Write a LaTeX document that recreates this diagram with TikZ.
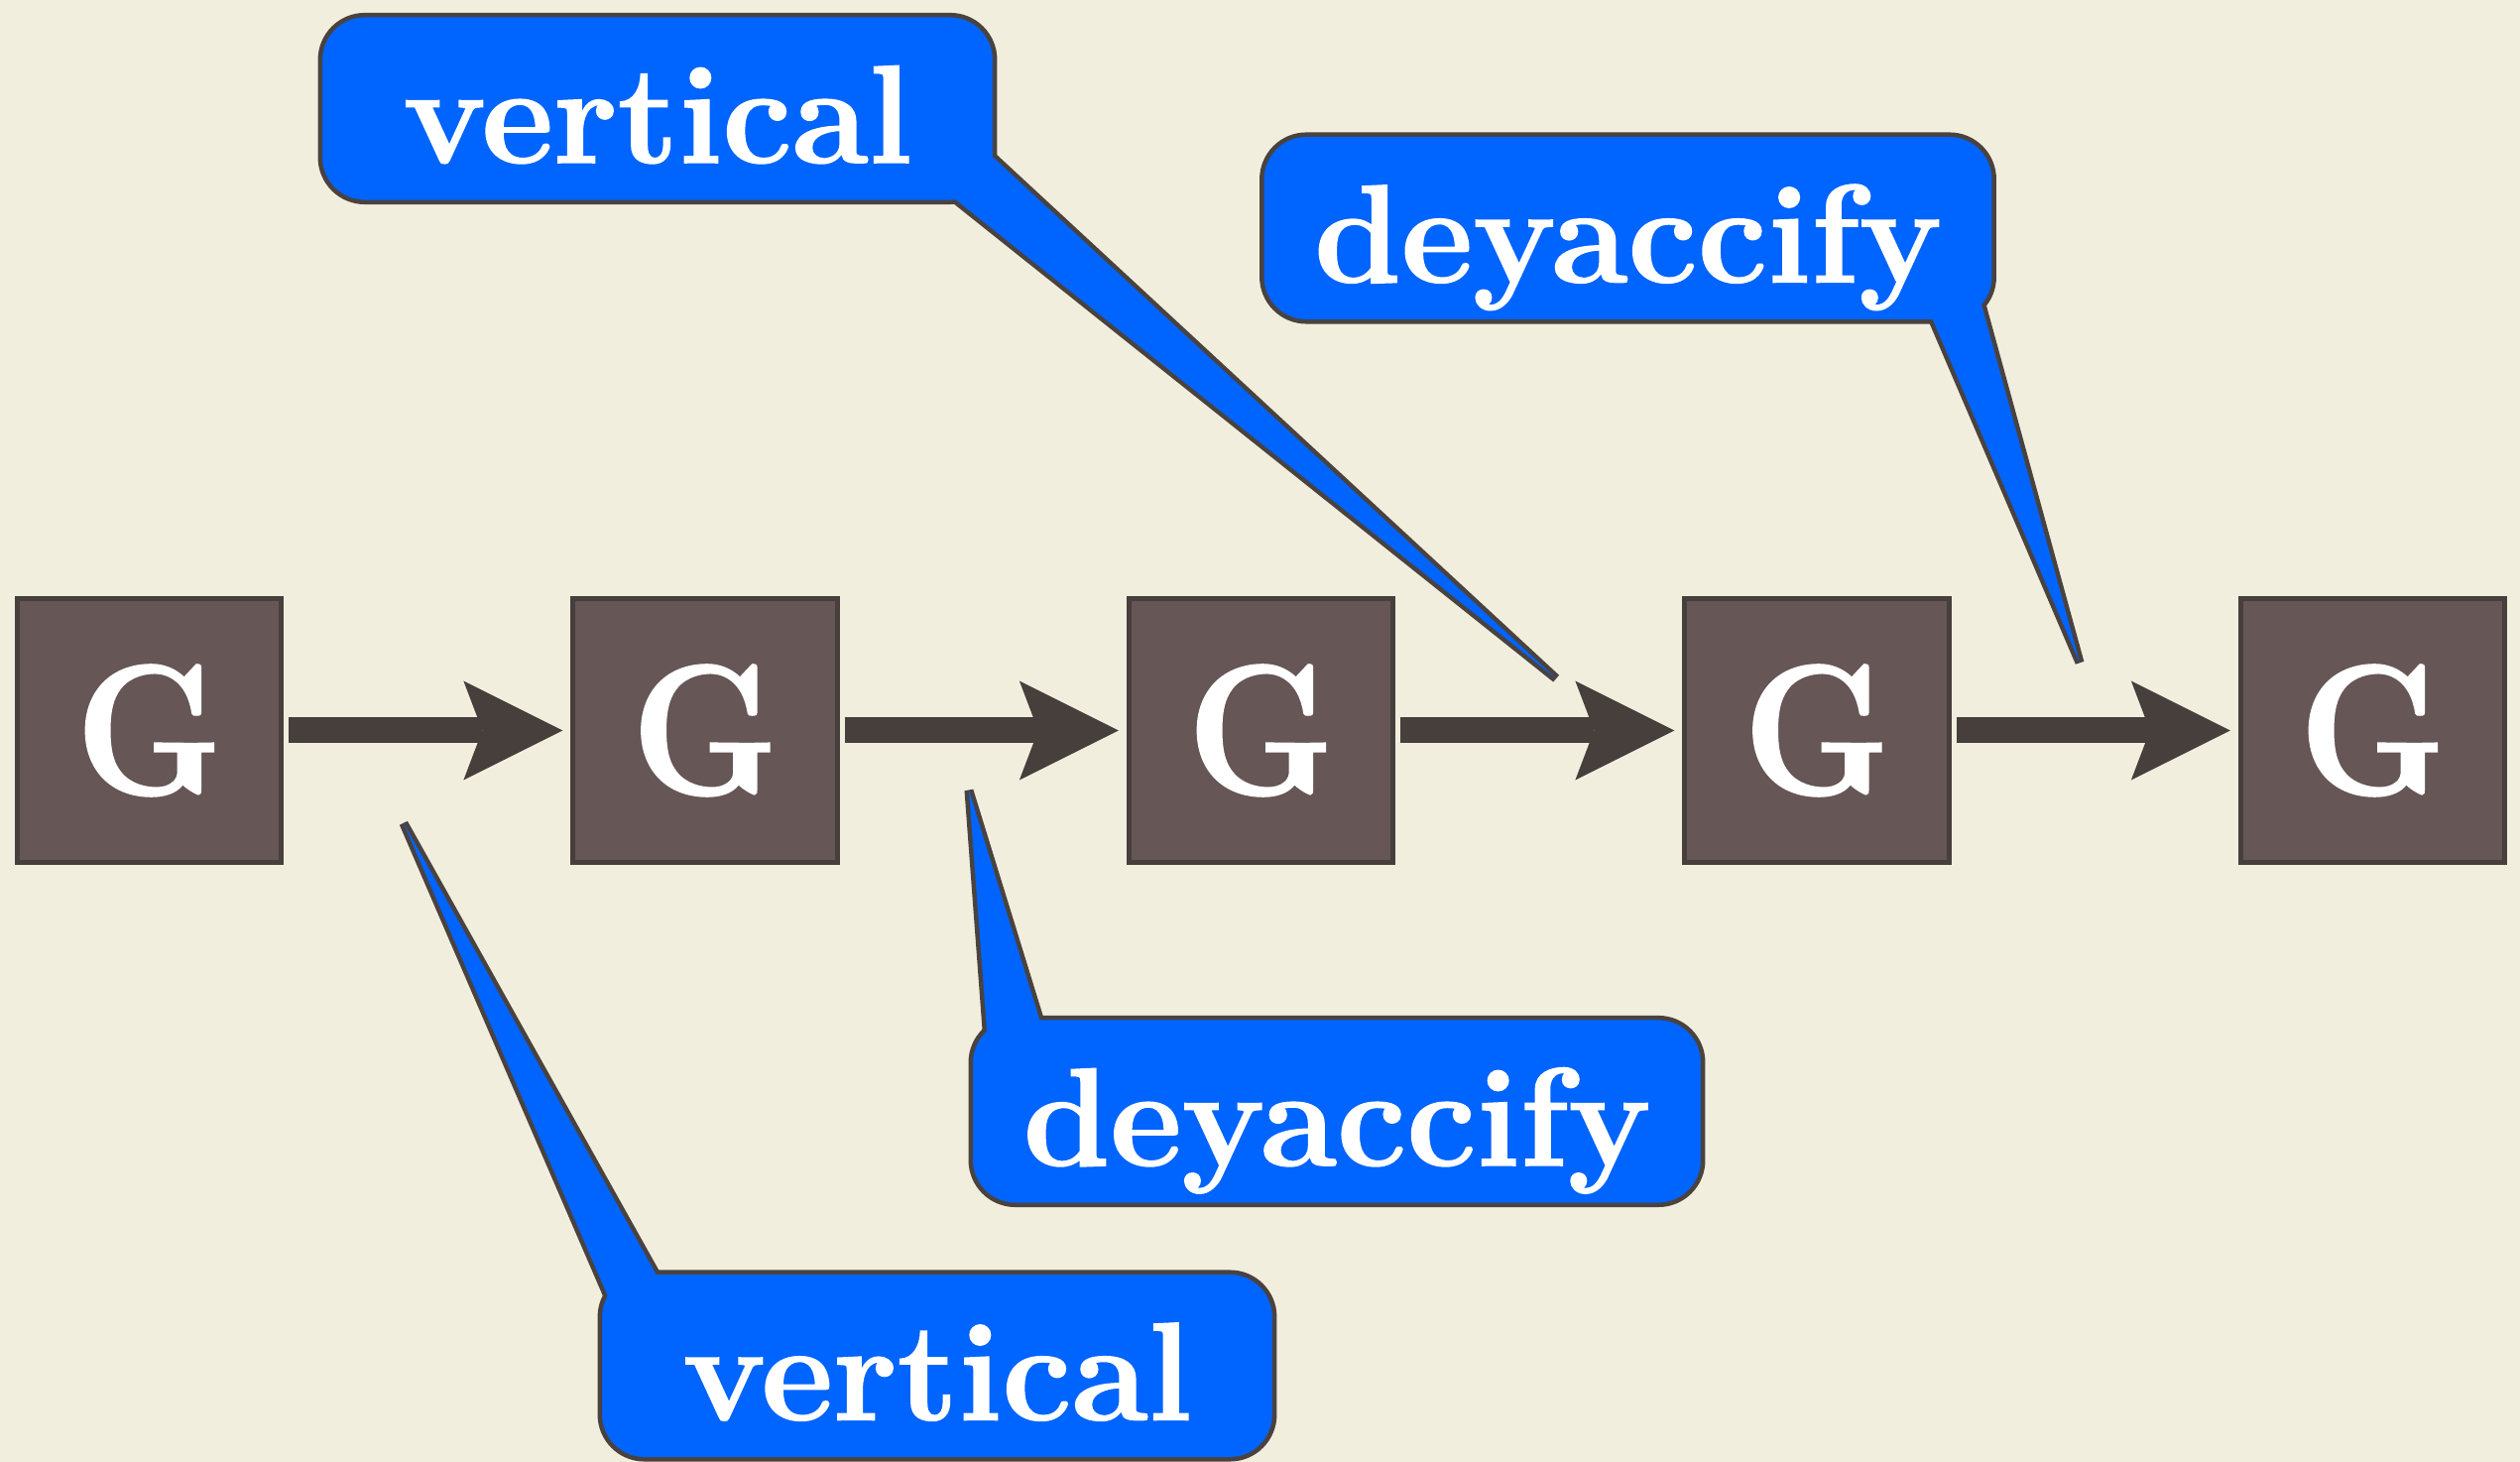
\documentclass[tikz,border=0pt]{standalone}
\usepackage{fontspec}
\setmainfont{Latin Modern Roman}[BoldFeatures={FakeBold=1.2}]
\newfontfamily\gfont{Latin Modern Roman}[BoldFeatures={FakeBold=1.2,FakeStretch=0.9}]
\usetikzlibrary{arrows.meta,calc}
\definecolor{bgc}{HTML}{F2EEDE}
\definecolor{boxfill}{HTML}{665656}
\definecolor{boxline}{HTML}{463F3C}
\definecolor{arrowc}{HTML}{463F3C}
\definecolor{cblue}{HTML}{0064FF}
\definecolor{cline}{HTML}{4A423F}
\pgfdeclarelayer{bg}
\pgfdeclarelayer{ptr}
\pgfsetlayers{bg,ptr,main}
\tikzset{
  gbox/.style={draw=boxline, fill=boxfill, line width=0.05cm, minimum size=2.66cm,
    inner sep=0pt, text=white, font=\gfont\fontsize{53}{53}\selectfont\bfseries},
  flow/.style={draw=arrowc, line width=0.26cm, shorten <=0.05cm, shorten >=0.08cm,
    -{Stealth[length=1.0cm, width=1.0cm, inset=0.19cm, line width=0pt]}},
  callout/.style={draw=cline, fill=cblue, line width=0.045cm, rounded corners=0.45cm,
    minimum height=1.885cm, inner sep=0pt, text=white,
    font=\fontsize{40}{42}\selectfont\bfseries, text height=1.09cm, text depth=0cm},
  ptrstroke/.style={fill=cblue, draw=cline, line width=0.09cm, line join=bevel},
  ptrfill/.style={fill=cblue}
}
\begin{document}
\begin{tikzpicture}[x=0.01cm, y=-0.01cm]
\begin{pgfonlayer}{bg}
  \fill[bgc] (0,0) rectangle (2541,1474);
\end{pgfonlayer}
\useasboundingbox (0,0) rectangle (2541,1474);

% G boxes
\node[gbox] (g1) at (150.5,736.5) {G};
\node[gbox] (g2) at (711,736.5) {G};
\node[gbox] (g3) at (1271.5,736.5) {G};
\node[gbox] (g4) at (1832,736.5) {G};
\node[gbox] (g5) at (2392.5,736.5) {G};

\draw[flow] (g1) -- (g2);
\draw[flow] (g2) -- (g3);
\draw[flow] (g3) -- (g4);
\draw[flow] (g4) -- (g5);

% callouts
\node[callout, minimum width=6.80cm] (c1) at (663,109.5) {vertical};
\node[callout, minimum width=7.38cm] (c2) at (1641.5,230) {deyaccify};
\node[callout, minimum width=7.38cm] (c3) at (1348,1120.5) {deyaccify};
\node[callout, minimum width=6.80cm] (c4) at (945,1377) {vertical};

% pointer tips and base points
\coordinate (t1) at (1569,684);  \coordinate (a1) at (967,204);  \coordinate (b1) at (1005,162);
\coordinate (t2) at (2097,668);  \coordinate (a2) at (1950,325); \coordinate (b2) at (1998,307);
\coordinate (t3) at (977,797);   \coordinate (a3) at (995,1038); \coordinate (b3) at (1047,1024);
\coordinate (t4) at (407,830);   \coordinate (a4) at (613,1307); \coordinate (b4) at (660,1282);

\begin{pgfonlayer}{ptr}
\foreach \i in {1,2,3,4}{
  \path[ptrstroke] ($(a\i)!-0.25cm!(t\i)$) -- (t\i) -- ($(b\i)!-0.25cm!(t\i)$) -- cycle;
}
\end{pgfonlayer}
\foreach \i in {1,2,3,4}{
  \path[ptrfill] ($(a\i)!-0.25cm!(t\i)$) -- (t\i) -- ($(b\i)!-0.25cm!(t\i)$) -- cycle;
}
\end{tikzpicture}
\end{document}
